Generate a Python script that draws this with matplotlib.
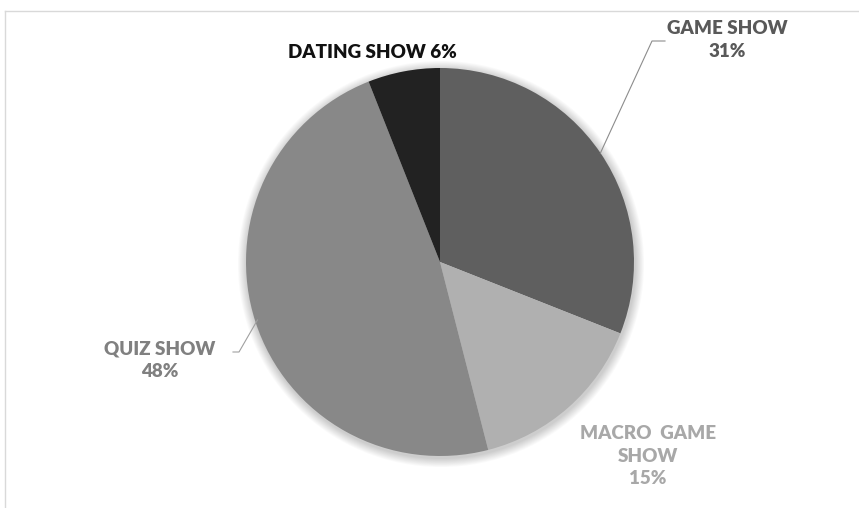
import numpy as np
import matplotlib.pyplot as plt
from matplotlib.patches import Circle

# data
categories = ["GAME SHOW", "MACRO GAME SHOW", "QUIZ SHOW", "DATING SHOW"]
shares = [31, 15, 48, 6]
slice_colors = ["#5f5f5f", "#b0b0b0", "#888888", "#222222"]
text_colors = ["#595959", "#a8a8a8", "#808080", "#111111"]

W, H = 859, 508
fig = plt.figure(figsize=(W / 100, H / 100), dpi=100)
ax = fig.add_axes([0, 0, 1, 1])

cx, cy, r = 440, H - 262, 194

# soft shadow around the pie
for i in range(10):
    ax.add_patch(Circle((cx + 1, cy - 2), r + 1 + i * 0.9, color="black",
                        alpha=0.018, lw=0, zorder=0))

wedges, _ = ax.pie(shares, colors=slice_colors, startangle=90,
                   counterclock=False, center=(cx, cy), radius=r,
                   wedgeprops=dict(linewidth=0))

ax.set_xlim(0, W)
ax.set_ylim(0, H)
ax.set_aspect("equal")
ax.axis("off")

# chart border (top and left only visible)
ax.plot([5, W], [H - 11, H - 11], color="#d9d9d9", lw=1)
ax.plot([5, 5], [H - 11, 0], color="#d9d9d9", lw=1)

font = dict(family=["Lato", "DejaVu Sans"], fontweight="heavy", fontsize=13.5)
ls = 1.42

def edge_point(w):
    mid = np.deg2rad((w.theta1 + w.theta2) / 2)
    return cx + r * np.cos(mid), cy + r * np.sin(mid)

# GAME SHOW
ax.text(727, H - 40, f"{categories[0]}\n{shares[0]}%", ha="center", va="center",
        color=text_colors[0], linespacing=ls, **font)
ex, ey = edge_point(wedges[0])
ax.plot([ex, 652, 665], [ey, H - 41, H - 41], color="#8c8c8c", lw=0.8, zorder=3)

# MACRO GAME SHOW
ax.text(648, H - 456, "MACRO  GAME\nSHOW\n" + f"{shares[1]}%", ha="center",
        va="center", color=text_colors[1], linespacing=ls, **font)

# QUIZ SHOW
ax.text(160, H - 360, f"{categories[2]}\n{shares[2]}%", ha="center", va="center",
        color=text_colors[2], linespacing=ls, **font)
ex, ey = edge_point(wedges[2])
ax.plot([233, 239, ex + 2], [H - 352, H - 352, ey + 2], color="#a0a0a0", lw=0.8)

# DATING SHOW
ax.text(372, H - 53, f"{categories[3]} {shares[3]}%", ha="center", va="center",
        color=text_colors[3], **font)

fig.savefig("out.png", dpi=100, facecolor="white")
